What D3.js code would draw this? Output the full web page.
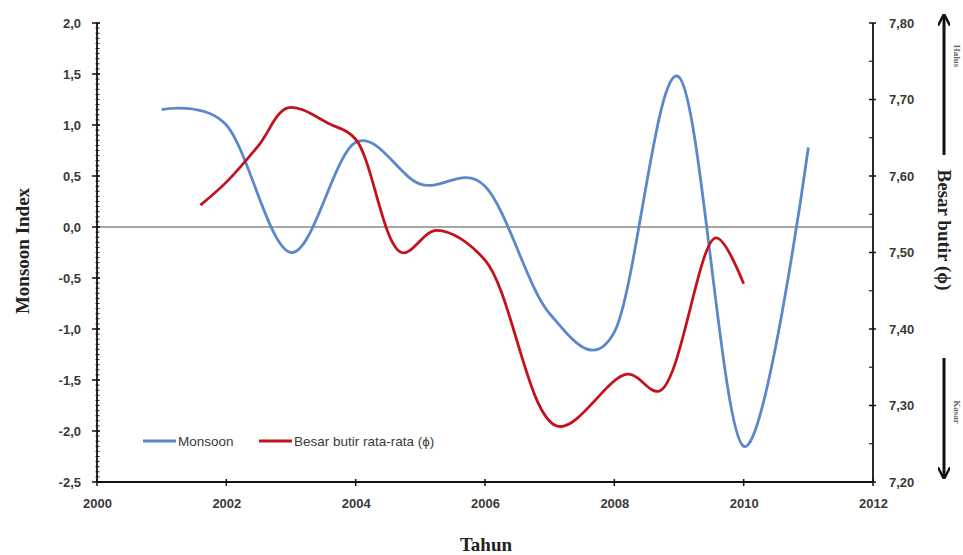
<!DOCTYPE html>
<html>
<head>
<meta charset="utf-8">
<script src="https://cdn.jsdelivr.net/npm/d3@7"></script>
<style>
  html, body { margin: 0; padding: 0; background: #fff; }
  svg { display: block; }
</style>
</head>
<body>
<svg id="chart" width="963" height="555"></svg>
<script>
// ---- Data ----
const monsoonYears = [2001, 2002, 2003, 2004, 2005, 2006, 2007, 2008, 2009, 2010, 2011];
const monsoonValues = [1.15, 1.0, -0.25, 0.83, 0.42, 0.40, -0.85, -1.03, 1.47, -2.15, 0.78];

const grainYears = [2001.6, 2002.0, 2002.5, 2002.95, 2003.6, 2004.0, 2004.71, 2005.25, 2006.0, 2007.12, 2008.2, 2008.7, 2009.57, 2010.0];
const grainValues = [7.562, 7.592, 7.64, 7.689, 7.668, 7.648, 7.500, 7.529, 7.490, 7.273, 7.341, 7.319, 7.519, 7.459];

const xTicks = [2000, 2002, 2004, 2006, 2008, 2010, 2012];
const leftTicks = [2.0, 1.5, 1.0, 0.5, 0.0, -0.5, -1.0, -1.5, -2.0, -2.5];
const rightTicks = [7.80, 7.70, 7.60, 7.50, 7.40, 7.30, 7.20];

const seriesNames = ["Monsoon", "Besar butir rata-rata (\u03D5)"];
const xTitle = "Tahun";
const yLeftTitle = "Monsoon Index";
const yRightTitle = "Besar butir (\u03D5)";
const sideTop = "Halus";
const sideBottom = "Kasar";

// ---- Layout ----
const svg = d3.select("#chart");
const X0 = 97, X1 = 873, Y0 = 23, Y1 = 482;

const x = d3.scaleLinear().domain([2000, 2012]).range([X0, X1]);
const yL = d3.scaleLinear().domain([-2.5, 2.0]).range([Y1, Y0]);
const yR = d3.scaleLinear().domain([7.2, 7.8]).range([Y1, Y0]);

const fmt1 = v => d3.format(".1f")(v).replace(".", ",").replace("\u2212", "-");
const fmt2 = v => d3.format(".2f")(v).replace(".", ",");

const tickFont = "'Liberation Sans', Arial, sans-serif";
const titleFont = "'Liberation Serif', 'Times New Roman', serif";

// zero line
svg.append("line")
  .attr("x1", X0).attr("x2", X1)
  .attr("y1", yL(0)).attr("y2", yL(0))
  .attr("stroke", "#a6a6a6").attr("stroke-width", 2);

// left axis
const leftAxis = d3.axisLeft(yL).tickValues(leftTicks).tickSize(0).tickFormat(fmt1).tickPadding(16);
const gL = svg.append("g").attr("transform", `translate(${X0},0)`).call(leftAxis);
gL.select(".domain").remove();
gL.selectAll("text").attr("font-family", tickFont).attr("font-size", 13).attr("font-weight", "bold").attr("fill", "#3a3a3a");
const minorL = d3.range(-2.5, 2.0001, 0.05);
svg.append("g").selectAll("line").data(minorL).join("line")
  .attr("x1", X0 - 1.5).attr("x2", X0 + 2.5)
  .attr("y1", d => yL(d)).attr("y2", d => yL(d))
  .attr("stroke", "#222").attr("stroke-width", 1);
svg.append("g").selectAll("line").data(leftTicks).join("line")
  .attr("x1", X0 - 5).attr("x2", X0 + 3)
  .attr("y1", d => yL(d)).attr("y2", d => yL(d))
  .attr("stroke", "#111").attr("stroke-width", 1.5);
svg.append("line").attr("x1", X0).attr("x2", X0).attr("y1", Y0).attr("y2", Y1)
  .attr("stroke", "#111").attr("stroke-width", 1.8);

// right axis
const rightAxis = d3.axisRight(yR).tickValues(rightTicks).tickSize(0).tickFormat(fmt2).tickPadding(16);
const gR = svg.append("g").attr("transform", `translate(${X1},0)`).call(rightAxis);
gR.select(".domain").remove();
gR.selectAll("text").attr("font-family", tickFont).attr("font-size", 13).attr("font-weight", "bold").attr("fill", "#3a3a3a");
const minorR = d3.range(7.25, 7.8, 0.1);
svg.append("g").selectAll("line").data(minorR).join("line")
  .attr("x1", X1 - 4).attr("x2", X1)
  .attr("y1", d => yR(d)).attr("y2", d => yR(d))
  .attr("stroke", "#222").attr("stroke-width", 1.2);
svg.append("g").selectAll("line").data(rightTicks).join("line")
  .attr("x1", X1 - 4).attr("x2", X1 + 3)
  .attr("y1", d => yR(d)).attr("y2", d => yR(d))
  .attr("stroke", "#111").attr("stroke-width", 1.5);
svg.append("line").attr("x1", X1).attr("x2", X1).attr("y1", Y0).attr("y2", Y1)
  .attr("stroke", "#111").attr("stroke-width", 1.8);

// bottom axis
const bottomAxis = d3.axisBottom(x).tickValues(xTicks).tickSize(0).tickFormat(d3.format("d")).tickPadding(17);
const gB = svg.append("g").attr("transform", `translate(0,${Y1})`).call(bottomAxis);
gB.select(".domain").remove();
gB.selectAll("text").attr("font-family", tickFont).attr("font-size", 13).attr("font-weight", "bold").attr("fill", "#3a3a3a");
svg.append("g").selectAll("line").data(xTicks).join("line")
  .attr("x1", d => x(d)).attr("x2", d => x(d))
  .attr("y1", Y1 - 3).attr("y2", Y1 + 4)
  .attr("stroke", "#111").attr("stroke-width", 1.5);
svg.append("line").attr("x1", X0).attr("x2", X1).attr("y1", Y1).attr("y2", Y1)
  .attr("stroke", "#111").attr("stroke-width", 1.8);

// series
const blue = "#5a88c8", red = "#c4121c";
const monsoonData = monsoonYears.map((yr, i) => [yr, monsoonValues[i]]);
const grainData = grainYears.map((yr, i) => [yr, grainValues[i]]);

svg.append("path").datum(monsoonData)
  .attr("fill", "none").attr("stroke", blue).attr("stroke-width", 2.8)
  .attr("d", d3.line().x(d => x(d[0])).y(d => yL(d[1])).curve(d3.curveCardinal.tension(0)));

svg.append("path").datum(grainData)
  .attr("fill", "none").attr("stroke", red).attr("stroke-width", 2.8)
  .attr("d", d3.line().x(d => x(d[0])).y(d => yR(d[1])).curve(d3.curveCatmullRom.alpha(0.5)));

// legend
const legend = svg.append("g").attr("font-family", tickFont).attr("font-size", 13.5).attr("fill", "#3a3a3a");
const legItems = [{name: seriesNames[0], color: blue, x: 143}, {name: seriesNames[1], color: red, x: 259}];
legItems.forEach(it => {
  legend.append("line").attr("x1", it.x).attr("x2", it.x + 33).attr("y1", 441).attr("y2", 441)
    .attr("stroke", it.color).attr("stroke-width", 2.8);
  legend.append("text").attr("x", it.x + 35).attr("y", 446).text(it.name);
});

// titles
svg.append("text").attr("x", 486).attr("y", 551).attr("text-anchor", "middle")
  .attr("font-family", titleFont).attr("font-weight", "bold").attr("font-size", 19).attr("fill", "#222")
  .text(xTitle);
svg.append("text").attr("transform", "translate(29,251) rotate(-90)").attr("text-anchor", "middle")
  .attr("font-family", titleFont).attr("font-weight", "bold").attr("font-size", 19).attr("fill", "#222")
  .text(yLeftTitle);
svg.append("text").attr("transform", "translate(938,230) rotate(90)").attr("text-anchor", "middle")
  .attr("font-family", titleFont).attr("font-weight", "bold").attr("font-size", 19).attr("fill", "#222")
  .text(yRightTitle);

// side labels near the right edge
svg.append("text").attr("transform", "translate(954,56) rotate(90)").attr("text-anchor", "middle")
  .attr("font-family", titleFont).attr("font-weight", "bold").attr("font-size", 9).attr("fill", "#666")
  .text(sideTop);
svg.append("text").attr("transform", "translate(954,412) rotate(90)").attr("text-anchor", "middle")
  .attr("font-family", titleFont).attr("font-weight", "bold").attr("font-size", 9).attr("fill", "#666")
  .text(sideBottom);

// arrows
const defs = svg.append("defs");
defs.append("marker").attr("id", "ah").attr("viewBox", "0 0 10 10")
  .attr("refX", 9).attr("refY", 5).attr("markerWidth", 4).attr("markerHeight", 4)
  .attr("markerUnits", "strokeWidth").attr("orient", "auto")
  .append("path").attr("d", "M0,0 L10,5 L0,10").attr("fill", "none").attr("stroke", "#111").attr("stroke-width", 2);
svg.append("line").attr("x1", 944).attr("x2", 944).attr("y1", 155).attr("y2", 15)
  .attr("stroke", "#111").attr("stroke-width", 3).attr("marker-end", "url(#ah)");
svg.append("line").attr("x1", 944).attr("x2", 944).attr("y1", 358).attr("y2", 478)
  .attr("stroke", "#111").attr("stroke-width", 3).attr("marker-end", "url(#ah)");
</script>
</body>
</html>
